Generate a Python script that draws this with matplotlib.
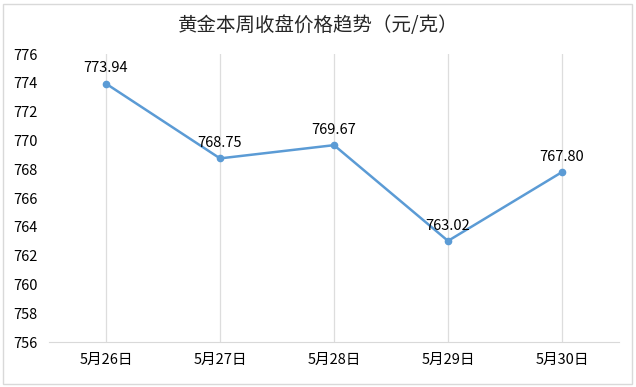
import matplotlib
matplotlib.use("Agg")
import matplotlib.pyplot as plt
from matplotlib.patches import Rectangle

plt.rcParams['font.family'] = ['Noto Sans CJK SC', 'DejaVu Sans']

title = "黄金本周收盘价格趋势（元/克）"
categories = ["5月26日", "5月27日", "5月28日", "5月29日", "5月30日"]
prices = [773.94, 768.75, 769.67, 763.02, 767.80]
yticks = [756, 758, 760, 762, 764, 766, 768, 770, 772, 774, 776]

fig = plt.figure(figsize=(6.36, 3.87), dpi=100)
ax = fig.add_axes([49/636, 45/387, 570/636, 288/387])

x = list(range(len(categories)))
ax.plot(x, prices, color="#5B9BD5", lw=1.8, marker="o", ms=4.5, zorder=3)
for xi, v in zip(x, prices):
    ax.annotate(f"{v:.2f}", (xi, v), xytext=(0, 6), textcoords="offset points",
                ha="center", va="bottom", fontsize=10.5, color="#000000")

ax.set_xlim(-0.5, len(categories) - 0.5)
ax.set_ylim(756, 776)
ax.set_yticks(yticks)
ax.set_xticks(x)
ax.set_xticklabels(categories, fontsize=10.5)
ax.tick_params(axis='y', length=0, labelsize=10.5)
ax.tick_params(axis='x', length=0, pad=8)
for lab in ax.get_yticklabels():
    lab.set_horizontalalignment('left')
ax.yaxis.set_tick_params(pad=26)
ax.grid(axis='x', color="#DDDDDD", lw=0.9)
for s in ['top', 'right', 'left']:
    ax.spines[s].set_visible(False)
ax.spines['bottom'].set_color("#D9D9D9")
ax.set_axisbelow(True)

fig.text(0.5, 1 - 25/387, title, ha="center", va="center", fontsize=14, color="#262626")
fig.patches.append(Rectangle((3/636, 3/387), 629/636, 380/387, transform=fig.transFigure,
                             fill=False, edgecolor="#D9D9D9", lw=1))

fig.savefig("out.png", dpi=100)
